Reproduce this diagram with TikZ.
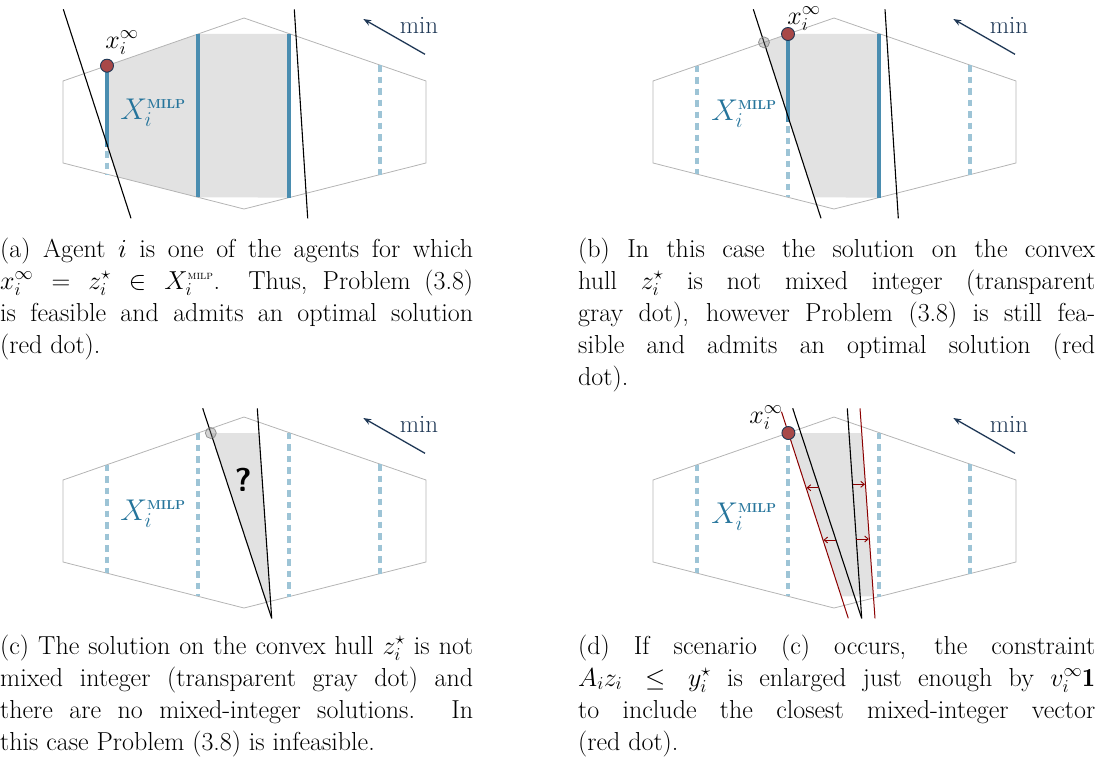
\documentclass[tikz,border=0pt]{standalone}
\usepackage{fix-cm}
\usepackage{fontspec}
\usetikzlibrary{arrows.meta}
\definecolor{hexgray}{RGB}{180,180,180}
\definecolor{fillgray}{RGB}{226,226,226}
\definecolor{intblue}{RGB}{74,141,176}
\definecolor{dashblue}{RGB}{157,196,214}
\definecolor{navy}{RGB}{30,55,85}
\definecolor{dotred}{RGB}{168,72,72}
\definecolor{consred}{RGB}{139,0,0}
\definecolor{labelblue}{RGB}{37,116,155}
\tikzset{
  hexa/.style={draw=hexgray,line width=0.8pt},
  hullfill/.style={fill=fillgray},
  solidint/.style={draw=intblue,line width=3.6pt},
  dashint/.style={draw=dashblue,line width=3.6pt,dash pattern=on 6.5pt off 5pt},
  cons/.style={draw=black,line width=1.1pt},
  redcons/.style={draw=consred,line width=1pt},
  reddot/.style={circle,fill=dotred,draw=navy,line width=0.9pt,inner sep=0pt,minimum size=13pt},
  graydot/.style={circle,fill=gray,fill opacity=0.35,draw=gray,draw opacity=0.8,line width=0.8pt,inner sep=0pt,minimum size=11pt},
  minarrow/.style={draw=navy,line width=1.3pt,-{Stealth[length=8pt,width=6pt]}},
  mintext/.style={text=navy,inner sep=0pt,font=\fontsize{25}{25}\selectfont},
  xlabel/.style={inner sep=0pt,font=\fontsize{26}{26}\selectfont},
  milplabel/.style={text=labelblue,inner sep=0pt,font=\fontsize{30}{30}\selectfont},
  enlarge/.style={draw=consred,line width=0.9pt,-{Straight Barb[length=3.5pt,width=6pt]}},
  caption/.style={anchor=base west,inner sep=0pt,font=\fontsize{26}{32}\selectfont},
}
\newcommand{\milpsup}{X_i^{\mbox{\fontsize{13}{13}\selectfont\bfseries MILP}}}
\newcommand{\capmilp}{X_i^{\mbox{\fontsize{12}{12}\selectfont\scshape milp}}}
\newcommand{\hexpath}{(63,81)--(244,18)--(426,81)--(426,163)--(244,209)--(63,163)--cycle}
\begin{document}
\begin{tikzpicture}[x=1pt,y=-1pt]
\useasboundingbox (0,0) rectangle (1107,760);

% ---------------- panel (a)
\begin{scope}
  \fill[hullfill] (107,65.7)--(198,34)--(289,34)--(289,197.6)--(198,197.3)--(117.6,176.9)--(107,147)--cycle;
  \draw[hexa] \hexpath;
  \draw[solidint] (107,65.7)--(107,147);
  \draw[dashint] (107,151)--(107,174.2);
  \draw[solidint] (198,34)--(198,197.3);
  \draw[solidint] (289,33.6)--(289,197.6);
  \draw[dashint] (380,65.1)--(380,174.6);
  \coordinate (aL1) at (63.3,9.3);
  \coordinate (aL2) at (131,218.3);
  \coordinate (aR1) at (294.3,9.3);
  \coordinate (aR2) at (307.7,218.3);
  \draw[cons] (aL1)--(aL2);
  \draw[cons] (aR1)--(aR2);
  \node[reddot] (adot) at (107,65.7) {};
  \node[xlabel] (ax) at (122,43) {$x_i^\infty$};
  \node[milplabel] (aX) at (153,113) {$\milpsup$};
  \coordinate (aM1) at (425,54.3);
  \coordinate (aM2) at (363.3,19);
  \draw[minarrow] (aM1)--(aM2);
  \node[mintext] (amin) at (419,25) {min};
\end{scope}

% ---------------- panel (b)
\begin{scope}[shift={(590,0)}]
  \fill[hullfill] (174,42.4)--(198,34)--(289,34)--(289,197.6)--(224.2,197.4)--cycle;
  \draw[hexa] \hexpath;
  \draw[dashint] (107,65.7)--(107,174.2);
  \draw[solidint] (198,34)--(198,122);
  \draw[dashint] (198,126)--(198,197.3);
  \draw[solidint] (289,33.6)--(289,197.6);
  \draw[dashint] (380,65.1)--(380,174.6);
  \coordinate (bL1) at (163.3,9.3);
  \coordinate (bL2) at (231,218.3);
  \coordinate (bR1) at (295,9.3);
  \coordinate (bR2) at (308.3,218.3);
  \draw[cons] (bL1)--(bL2);
  \draw[cons] (bR1)--(bR2);
  \node[graydot] (bgdot) at (174,42.4) {};
  \node[reddot] (bdot) at (198,34) {};
  \node[xlabel] (bx) at (214,19) {$x_i^\infty$};
  \node[milplabel] (bX) at (154,114) {$\milpsup$};
  \coordinate (bM1) at (425,54.3);
  \coordinate (bM2) at (363.3,19);
  \draw[minarrow] (bM1)--(bM2);
  \node[mintext] (bmin) at (419,25) {min};
\end{scope}

% ---------------- panel (c)
\begin{scope}[shift={(0,399)}]
  \begin{scope}
    \clip \hexpath;
    \fill[hullfill] (210.8,34)--(259,34)--(271.7,219.3)--cycle;
  \end{scope}
  \draw[hexa] \hexpath;
  \draw[dashint] (107,65.7)--(107,174.2);
  \draw[dashint] (198,34)--(198,197.3);
  \draw[dashint] (289,33.6)--(289,197.6);
  \draw[dashint] (380,65.1)--(380,174.6);
  \coordinate (cL1) at (202.7,9.3);
  \coordinate (cR1) at (257.3,9.3);
  \coordinate (cB) at (271.7,219.3);
  \draw[cons] (cL1)--(cB);
  \draw[cons] (cR1)--(cB);
  \node[graydot] (cgdot) at (210.8,34) {};
  \node[inner sep=0pt,font=\fontsize{33}{33}\selectfont\sffamily\bfseries] (cq) at (243.3,81) {?};
  \node[milplabel] (cX) at (153,115) {$\milpsup$};
  \coordinate (cM1) at (425,54.3);
  \coordinate (cM2) at (363.3,19);
  \draw[minarrow] (cM1)--(cM2);
  \node[mintext] (cmin) at (419,25) {min};
\end{scope}

% ---------------- panel (d)
\begin{scope}[shift={(590,399)}]
  \fill[hullfill] (198.4,34)--(271.8,34)--(283.4,197.4)--(251.2,197.4)--cycle;
  \draw[hexa] \hexpath;
  \draw[dashint] (107,65.7)--(107,174.2);
  \draw[dashint] (198,34)--(198,197.3);
  \draw[dashint] (289,33.6)--(289,197.6);
  \draw[dashint] (380,65.1)--(380,174.6);
  \coordinate (dL1) at (202.7,9.3);
  \coordinate (dR1) at (257.3,9.3);
  \coordinate (dB) at (271.7,219.3);
  \coordinate (dRL1) at (191.5,12.7);
  \coordinate (dRL2) at (258.3,219.3);
  \coordinate (dRR1) at (270,9.3);
  \coordinate (dRR2) at (285,219.3);
  \draw[redcons] (dRL1)--(dRL2);
  \draw[redcons] (dRR1)--(dRR2);
  \draw[cons] (dL1)--(dB);
  \draw[cons] (dR1)--(dB);
  \coordinate (e1s) at (228.8,88.7);
  \coordinate (e1t) at (216.6,88.7);
  \coordinate (e2s) at (246.0,141);
  \coordinate (e2t) at (233.5,141);
  \coordinate (e3s) at (262.5,85.3);
  \coordinate (e3t) at (274.9,85.3);
  \coordinate (e4s) at (266.3,140);
  \coordinate (e4t) at (278.8,140);
  \draw[enlarge] (e1s)--(e1t);
  \draw[enlarge] (e2s)--(e2t);
  \draw[enlarge] (e3s)--(e3t);
  \draw[enlarge] (e4s)--(e4t);
  \node[reddot] (ddot) at (198.4,34) {};
  \node[xlabel] (dx) at (176,19) {$x_i^\infty$};
  \node[milplabel] (dX) at (154,118) {$\milpsup$};
  \coordinate (dM1) at (425,54.3);
  \coordinate (dM2) at (363.3,19);
  \draw[minarrow] (dM1)--(dM2);
  \node[mintext] (dmin) at (419,25) {min};
\end{scope}

% ---------------- captions
\node[caption] (capa) at (0,257) {\parbox[t]{473pt}{(a) Agent $i$ is one of the agents for which\linebreak
$x_i^\infty = z_i^\star \in \capmilp$. Thus, Problem (3.8)\linebreak
is feasible and admits an optimal solution\linebreak
(red dot).}};
\node[caption] (capb) at (578,257) {\parbox[t]{517pt}{(b) In this case the solution on the convex\linebreak
hull $z_i^\star$ is not mixed integer (transparent\linebreak
gray dot), however Problem (3.8) is still fea-\linebreak
sible and admits an optimal solution (red\linebreak
dot).}};
\node[caption] (capc) at (0,654) {\parbox[t]{473pt}{(c) The solution on the convex hull $z_i^\star$ is not\linebreak
mixed integer (transparent gray dot) and\linebreak
there are no mixed-integer solutions. In\linebreak
this case Problem (3.8) is infeasible.}};
\node[caption] (capd) at (578,654) {\parbox[t]{517pt}{(d) If scenario (c) occurs, the constraint\linebreak
$A_iz_i \le y_i^\star$ is enlarged just enough by $v_i^\infty\mathbf{1}$\linebreak
to include the closest mixed-integer vector\linebreak
(red dot).}};
\end{tikzpicture}
\end{document}
